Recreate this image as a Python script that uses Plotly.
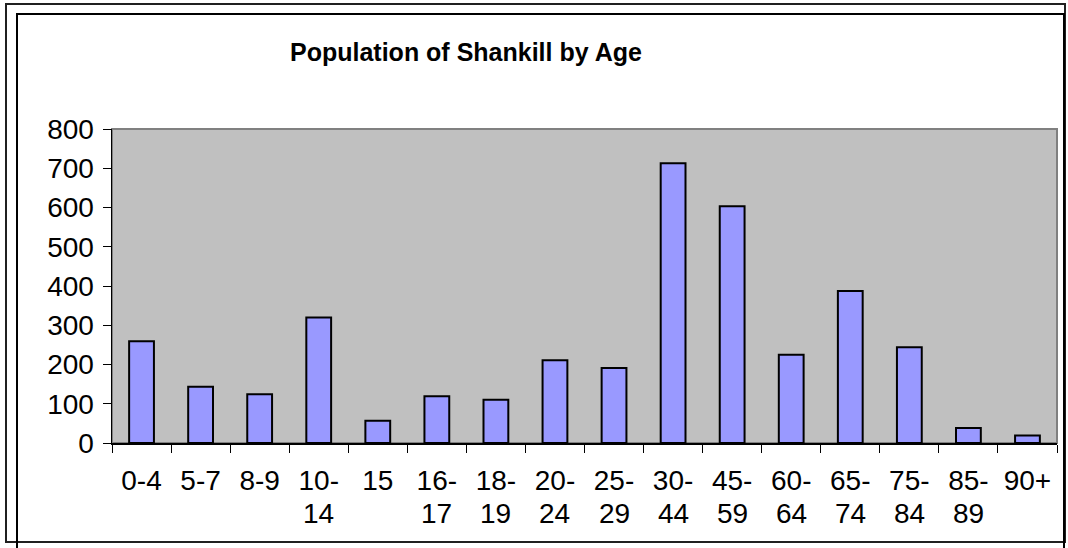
import plotly.graph_objects as go

age_groups = ["0-4", "5-7", "8-9", "10-14", "15", "16-17", "18-19", "20-24",
              "25-29", "30-44", "45-59", "60-64", "65-74", "75-84", "85-89", "90+"]
label_line1 = ["0-4", "5-7", "8-9", "10-", "15", "16-", "18-", "20-",
               "25-", "30-", "45-", "60-", "65-", "75-", "85-", "90+"]
label_line2 = ["", "", "", "14", "", "17", "19", "24",
               "29", "44", "59", "64", "74", "84", "89", ""]
population = [259, 143, 124, 320, 57, 119, 110, 211, 191, 713, 603, 225, 387, 244, 38, 19]
title_text = "Population of Shankill by Age"

W, H = 1068, 548
L, R, T, B = 112, 1057, 129, 443
FONT = "Arial, Liberation Sans, sans-serif"


def px(xp):
    return (xp - L) / (R - L)


def py(yp):
    return (B - yp) / (B - T)


fig = go.Figure(go.Bar(
    x=age_groups, y=population,
    marker=dict(color="#9999FF", line=dict(color="black", width=2)),
))

fig.update_layout(
    width=W, height=H,
    margin=dict(l=L, r=W - R, t=T, b=H - B, pad=0),
    paper_bgcolor="white", plot_bgcolor="#C0C0C0",
    bargap=0.58, showlegend=False,
    font=dict(family=FONT, size=28, color="black"),
)
fig.update_xaxes(
    type="category", tickmode="array", tickvals=age_groups, ticktext=label_line1,
    showline=True, linecolor="black", linewidth=1.5,
    ticks="outside", tickson="boundaries", ticklen=8, tickcolor="black", tickwidth=1,
    ticklabelstandoff=12,
    showgrid=False, tickangle=0, fixedrange=True,
    tickfont=dict(family=FONT, size=28, color="black"),
)
fig.update_yaxes(
    range=[0, 800], dtick=100, tick0=0,
    showline=True, linecolor="black", linewidth=1.5,
    ticks="outside", ticklen=8, tickcolor="black", tickwidth=1,
    ticklabelstandoff=3,
    showgrid=False, zeroline=False, fixedrange=True,
    tickfont=dict(family=FONT, size=28, color="black"),
)

for cat, txt in zip(age_groups, label_line2):
    if txt:
        fig.add_annotation(
            text=txt, xref="x", yref="paper", x=cat, y=py(513),
            xanchor="center", yanchor="middle", showarrow=False,
            font=dict(family=FONT, size=28, color="black"),
        )

shapes = [
    dict(type="rect", xref="paper", yref="paper", x0=0, x1=1, y0=0, y1=1,
         line=dict(color="#808080", width=2), fillcolor="rgba(0,0,0,0)", layer="below"),
    dict(type="rect", xref="paper", yref="paper", x0=px(6), x1=px(1065), y0=py(542), y1=py(4),
         line=dict(color="#202020", width=2), fillcolor="rgba(0,0,0,0)", layer="above"),
    dict(type="rect", xref="paper", yref="paper", x0=px(17), x1=px(1064), y0=py(570), y1=py(14),
         line=dict(color="black", width=2), fillcolor="rgba(0,0,0,0)", layer="above"),
]
fig.update_layout(shapes=shapes)

fig.add_annotation(
    text="<b>" + title_text + "</b>", xref="paper", yref="paper",
    x=px(466), y=py(52), xanchor="center", yanchor="middle", showarrow=False,
    font=dict(family=FONT, size=25, color="black"),
)

fig.write_html(
    "out.html",
    config={"displayModeBar": False, "staticPlot": True},
    post_script="document.body.style.margin='0';document.body.style.overflow='hidden';",
)
